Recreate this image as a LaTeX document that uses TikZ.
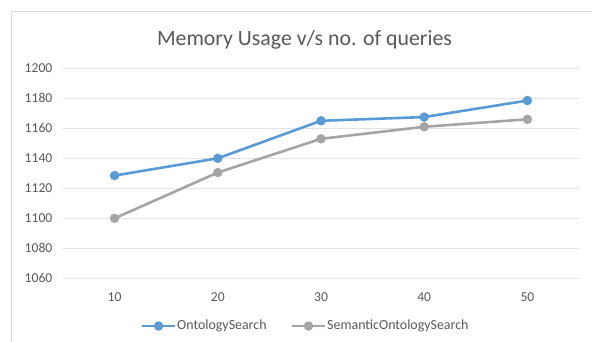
\documentclass[tikz,border=0pt]{standalone}
\usepackage{fontspec}
\setmainfont{Carlito}
\definecolor{serA}{HTML}{5B9BD5}
\definecolor{serB}{HTML}{A5A5A5}
\definecolor{gridc}{HTML}{E3E3E3}
\definecolor{framec}{HTML}{D9D9D9}
\definecolor{txt}{HTML}{595959}
\tikzset{
  gridline/.style={gridc, line width=1pt},
  ticklabel/.style={text=txt, font=\fontsize{13.6}{16}\selectfont, inner sep=0pt},
  series/.style={line width=2.6pt, line join=round},
  dot/.style={circle, fill=#1, minimum size=9.5pt, inner sep=0pt},
  legendtext/.style={text=txt, font=\fontsize{13.9}{16}\selectfont, inner sep=0pt, anchor=west},
}
\begin{document}
\begin{tikzpicture}[x=1pt,y=-1pt]
\fill[white] (0,0) rectangle (592,342);
\useasboundingbox (0,0) rectangle (592,342);
\begin{scope}
\clip (0,0) rectangle (592,342);
\draw[framec, line width=1.2pt] (11.5,11.5) rectangle (620,370);
\end{scope}
% title
\node[text=txt, font=\fontsize{21.8}{25}\selectfont, inner sep=0pt] (title) at (304.5,40) {Memory Usage v/s no. of queries};
% horizontal grid and value labels: 1060 at y=278.3, 1.5 px per unit
\foreach \v in {1060,1080,...,1200}{
  \pgfmathsetmacro{\yy}{278.3-(\v-1060)*1.5}
  \draw[gridline] (63,\yy) -- (579,\yy);
  \node[ticklabel, anchor=east] (yl\v) at (52.5,\yy) {\v};
}
% category labels
\foreach \c [count=\i] in {10,20,30,40,50}{
  \pgfmathsetmacro{\xx}{63+(\i-0.5)*103.2}
  \node[ticklabel] (xl\c) at (\xx,297.5) {\c};
}
% data points
\foreach \c/\a/\b [count=\i] in {10/1128.5/1100,20/1140/1130.5,30/1165/1153,40/1167.5/1161,50/1178.5/1166}{
  \pgfmathsetmacro{\xx}{63+(\i-0.5)*103.2}
  \pgfmathsetmacro{\ya}{278.3-(\a-1060)*1.5}
  \pgfmathsetmacro{\yb}{278.3-(\b-1060)*1.5}
  \coordinate (a\i) at (\xx,\ya);
  \coordinate (b\i) at (\xx,\yb);
}
\draw[series, serB] (b1) -- (b2) -- (b3) -- (b4) -- (b5);
\draw[series, serA] (a1) -- (a2) -- (a3) -- (a4) -- (a5);
\foreach \i in {1,...,5}{
  \node[dot=serB] (mb\i) at (b\i) {};
  \node[dot=serA] (ma\i) at (a\i) {};
}
% legend
\coordinate (la0) at (142,326);
\coordinate (la1) at (175,326);
\draw[series, serA] (la0) -- (la1);
\node[dot=serA] (lma) at (158.5,326) {};
\node[legendtext] (lta) at (177,326) {OntologySearch};
\coordinate (lb0) at (292,326);
\coordinate (lb1) at (325,326);
\draw[series, serB] (lb0) -- (lb1);
\node[dot=serB] (lmb) at (308.5,326) {};
\node[legendtext] (ltb) at (327,326) {SemanticOntologySearch};
\end{tikzpicture}
\end{document}
